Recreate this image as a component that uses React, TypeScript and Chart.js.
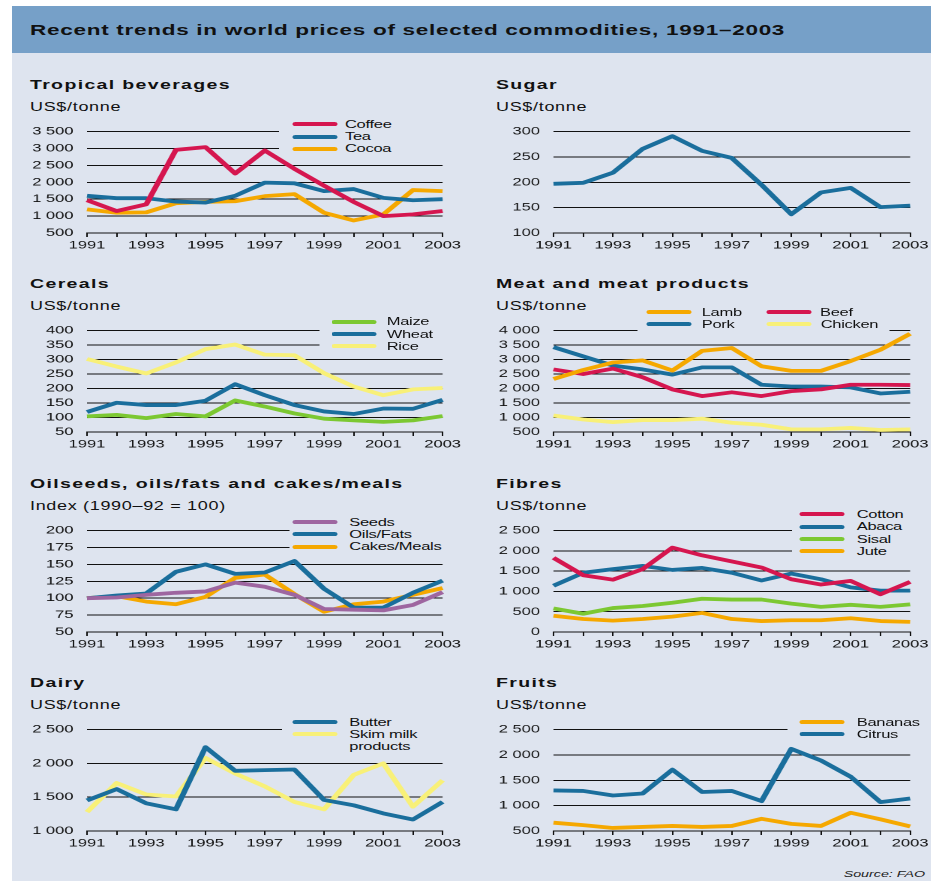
import React, { useEffect, useRef } from 'react';
import { Chart, registerables } from 'chart.js';

Chart.register(...registerables);

// ---------- data ----------
const years = ['1991', '1992', '1993', '1994', '1995', '1996', '1997', '1998', '1999', '2000', '2001', '2002', '2003'];

const coffee = [1470, 1150, 1350, 2960, 3040, 2260, 2940, 2400, 1900, 1420, 1000, 1050, 1150];
const tea = [1600, 1530, 1530, 1430, 1400, 1600, 1990, 1970, 1740, 1800, 1540, 1470, 1500];
const cocoa = [1200, 1100, 1110, 1380, 1420, 1440, 1590, 1650, 1100, 870, 1050, 1770, 1740];

const sugar = [197, 199, 219, 266, 291, 262, 248, 195, 137, 180, 189, 151, 154];

const maize = [104, 109, 98, 112, 104, 159, 138, 114, 96, 90, 85, 90, 105];
const wheat = [119, 151, 143, 143, 158, 215, 177, 143, 121, 112, 131, 130, 161];
const rice = [302, 276, 252, 290, 336, 352, 317, 315, 253, 207, 177, 197, 202];

const lamb = [2330, 2640, 2900, 2970, 2620, 3300, 3400, 2770, 2610, 2610, 2950, 3340, 3890];
const pork = [3430, 3110, 2790, 2660, 2480, 2730, 2730, 2130, 2070, 2070, 2040, 1830, 1890];
const beef = [2660, 2500, 2690, 2390, 1970, 1740, 1870, 1740, 1910, 1970, 2130, 2130, 2120];
const chicken = [1070, 930, 840, 910, 910, 960, 820, 750, 590, 590, 640, 570, 590];

const seeds = [100, 101, 105, 108, 110, 123, 117, 105, 84, 83, 82, 90, 109];
const oilsFats = [100, 104, 107, 139, 150, 136, 138, 155, 114, 86, 86, 108, 126];
const cakesMeals = [100, 103, 95, 91, 102, 130, 135, 106, 80, 91, 95, 105, 115];

const cotton = [1830, 1400, 1290, 1550, 2080, 1890, 1740, 1590, 1300, 1170, 1260, 930, 1235];
const abaca = [1140, 1460, 1550, 1630, 1530, 1580, 1460, 1270, 1440, 1300, 1100, 1020, 1020];
const sisal = [580, 450, 590, 640, 720, 820, 800, 800, 700, 620, 670, 620, 680];
const jute = [400, 320, 280, 320, 380, 470, 320, 270, 290, 290, 340, 270, 250];

const butter = [1452, 1620, 1410, 1320, 2240, 1890, 1900, 1910, 1460, 1380, 1260, 1170, 1430];
const skimMilk = [1280, 1710, 1540, 1510, 2080, 1850, 1660, 1430, 1320, 1830, 2000, 1360, 1750];

const bananas = [664, 615, 560, 580, 600, 580, 600, 740, 640, 600, 860, 730, 590];
const citrus = [1300, 1290, 1200, 1240, 1710, 1270, 1290, 1090, 2120, 1890, 1570, 1070, 1140];

// ---------- styling ----------
const RED = '#D5164F';
const BLUE = '#1A6E9C';
const ORANGE = '#F5A800';
const GREEN = '#7CC832';
const YELLOW = '#F8F078';
const PURPLE = '#9E66A0';
const PANEL_BG = '#DEE4EF';
const HEADER_BG = '#76A0C8';
const FONT = '"Liberation Sans", Arial, Helvetica, sans-serif';

const S = 1.5; // horizontal stretch of the whole composition
const COLS = [
  { plotLeft: 87, plotRight: 443, textX: 30 },
  { plotLeft: 554, plotRight: 911, textX: 496 },
];
const ROW_TOPS = [124, 323, 523, 722];
const PLOT_H = 109;

type Series = { label: string; data: number[]; color: string };
type LegendItem = { label: string; color: string; x: number; y: number; tx: number };
type PanelDef = {
  title: string;
  unit: string;
  col: number;
  row: number;
  min: number;
  max: number;
  step: number;
  series: Series[];
  legend?: { box: [number, number, number, number]; items: LegendItem[] };
};

const panels: PanelDef[] = [
  {
    title: 'Tropical beverages', unit: 'US$/tonne', col: 0, row: 0, min: 500, max: 3500, step: 500,
    series: [
      { label: 'Coffee', data: coffee, color: RED },
      { label: 'Tea', data: tea, color: BLUE },
      { label: 'Cocoa', data: cocoa, color: ORANGE },
    ],
    legend: {
      box: [279, 116, 450, 155],
      items: [
        { label: 'Coffee', color: RED, x: 293, y: 124.3, tx: 345 },
        { label: 'Tea', color: BLUE, x: 293, y: 136.7, tx: 345 },
        { label: 'Cocoa', color: ORANGE, x: 293, y: 148.7, tx: 345 },
      ],
    },
  },
  {
    title: 'Sugar', unit: 'US$/tonne', col: 1, row: 0, min: 100, max: 300, step: 50,
    series: [{ label: 'Sugar', data: sugar, color: BLUE }],
  },
  {
    title: 'Cereals', unit: 'US$/tonne', col: 0, row: 1, min: 50, max: 400, step: 50,
    series: [
      { label: 'Maize', data: maize, color: GREEN },
      { label: 'Wheat', data: wheat, color: BLUE },
      { label: 'Rice', data: rice, color: YELLOW },
    ],
    legend: {
      box: [319, 315, 450, 352],
      items: [
        { label: 'Maize', color: GREEN, x: 331.7, y: 321.7, tx: 386.7 },
        { label: 'Wheat', color: BLUE, x: 331.7, y: 334, tx: 386.7 },
        { label: 'Rice', color: YELLOW, x: 331.7, y: 346.3, tx: 386.7 },
      ],
    },
  },
  {
    title: 'Meat and meat products', unit: 'US$/tonne', col: 1, row: 1, min: 500, max: 4000, step: 500,
    series: [
      { label: 'Lamb', data: lamb, color: ORANGE },
      { label: 'Beef', data: beef, color: RED },
      { label: 'Pork', data: pork, color: BLUE },
      { label: 'Chicken', data: chicken, color: YELLOW },
    ],
    legend: {
      box: [637, 305, 890, 331],
      items: [
        { label: 'Lamb', color: ORANGE, x: 646.7, y: 312.3, tx: 701.7 },
        { label: 'Beef', color: RED, x: 766.7, y: 312.3, tx: 820 },
        { label: 'Pork', color: BLUE, x: 646.7, y: 324.3, tx: 701.7 },
        { label: 'Chicken', color: YELLOW, x: 766.7, y: 324.3, tx: 820.7 },
      ],
    },
  },
  {
    title: 'Oilseeds, oils/fats and cakes/meals', unit: 'Index (1990\u201392 = 100)', col: 0, row: 2, min: 50, max: 200, step: 25,
    series: [
      { label: 'Seeds', data: seeds, color: PURPLE },
      { label: 'Oils/Fats', data: oilsFats, color: BLUE },
      { label: 'Cakes/Meals', data: cakesMeals, color: ORANGE },
    ],
    legend: {
      box: [289, 515, 450, 553],
      items: [
        { label: 'Seeds', color: PURPLE, x: 293, y: 522.3, tx: 349.3 },
        { label: 'Oils/Fats', color: BLUE, x: 293, y: 534.3, tx: 349.3 },
        { label: 'Cakes/Meals', color: ORANGE, x: 293, y: 546.7, tx: 349.3 },
      ],
    },
  },
  {
    title: 'Fibres', unit: 'US$/tonne', col: 1, row: 2, min: 0, max: 2500, step: 500,
    series: [
      { label: 'Cotton', data: cotton, color: RED },
      { label: 'Abaca', data: abaca, color: BLUE },
      { label: 'Sisal', data: sisal, color: GREEN },
      { label: 'Jute', data: jute, color: ORANGE },
    ],
    legend: {
      box: [792, 507, 931, 557],
      items: [
        { label: 'Cotton', color: RED, x: 800, y: 514.3, tx: 856.7 },
        { label: 'Abaca', color: BLUE, x: 800, y: 526.7, tx: 856.7 },
        { label: 'Sisal', color: GREEN, x: 800, y: 539, tx: 856.7 },
        { label: 'Jute', color: ORANGE, x: 800, y: 551, tx: 856.7 },
      ],
    },
  },
  {
    title: 'Dairy', unit: 'US$/tonne', col: 0, row: 3, min: 1000, max: 2500, step: 500,
    series: [
      { label: 'Butter', data: butter, color: BLUE },
      { label: 'Skim milk products', data: skimMilk, color: YELLOW },
    ],
    legend: {
      box: [282, 714, 450, 752],
      items: [
        { label: 'Butter', color: BLUE, x: 293, y: 722.3, tx: 349.3 },
        { label: 'Skim milk\nproducts', color: YELLOW, x: 293, y: 734.3, tx: 349.3 },
      ],
    },
  },
  {
    title: 'Fruits', unit: 'US$/tonne', col: 1, row: 3, min: 500, max: 2500, step: 500,
    series: [
      { label: 'Bananas', data: bananas, color: ORANGE },
      { label: 'Citrus', data: citrus, color: BLUE },
    ],
    legend: {
      box: [788, 714, 931, 742],
      items: [
        { label: 'Bananas', color: ORANGE, x: 800, y: 722.3, tx: 856.7 },
        { label: 'Citrus', color: BLUE, x: 800, y: 734, tx: 856.7 },
      ],
    },
  },
];

function fmt(v: number): string {
  if (v >= 1000) {
    const th = Math.floor(v / 1000);
    const rest = String(v % 1000).padStart(3, '0');
    return th + ' ' + rest;
  }
  return String(v);
}

const Y_AXIS_W = 40;
const PAD_TOP = 8;
const PAD_RIGHT = 14;
const X_AXIS_H = 24;

function PanelChart({ p }: { p: PanelDef }) {
  const ref = useRef<HTMLCanvasElement | null>(null);
  const col = COLS[p.col];
  const top = ROW_TOPS[p.row];
  const plotW = (col.plotRight - col.plotLeft) / S;
  const left = col.plotLeft / S - Y_AXIS_W;
  const width = Y_AXIS_W + plotW + PAD_RIGHT;
  const height = PAD_TOP + PLOT_H + X_AXIS_H;

  useEffect(() => {
    if (!ref.current) return;
    const chart = new Chart(ref.current, {
      type: 'line',
      data: {
        labels: years,
        datasets: p.series.map((s) => ({
          label: s.label,
          data: s.data,
          borderColor: s.color,
          backgroundColor: s.color,
          borderWidth: 3.8,
          pointRadius: 0,
          tension: 0,
          fill: false,
          borderJoinStyle: 'round' as const,
          borderCapStyle: 'butt' as const,
        })),
      },
      options: {
        animation: false,
        responsive: true,
        maintainAspectRatio: false,
        devicePixelRatio: 2,
        layout: { padding: { top: PAD_TOP, right: PAD_RIGHT, bottom: 0, left: 0 } },
        plugins: { legend: { display: false }, tooltip: { enabled: false } },
        scales: {
          x: {
            type: 'category',
            grid: { drawOnChartArea: false, drawTicks: true, tickLength: 4, color: '#111', lineWidth: 1 },
            border: { display: true, color: '#111', width: 1 },
            ticks: {
              autoSkip: false,
              maxRotation: 0,
              minRotation: 0,
              padding: 2,
              color: '#111',
              font: { family: FONT, size: 11 },
              callback: (_v: any, i: number) => (i % 2 === 0 ? years[i] : ''),
            },
            afterFit: (s: any) => {
              s.height = X_AXIS_H;
            },
          },
          y: {
            min: p.min,
            max: p.max,
            grid: { drawTicks: false, color: '#111', lineWidth: 1 },
            border: { display: false },
            ticks: {
              stepSize: p.step,
              autoSkip: false,
              padding: 9,
              color: '#111',
              font: { family: FONT, size: 11 },
              callback: (v: any) => fmt(Number(v)),
            },
            afterFit: (s: any) => {
              s.width = Y_AXIS_W;
            },
          },
        },
      },
    });
    return () => chart.destroy();
  }, []);

  return (
    <div style={{ position: 'absolute', left, top: top - PAD_TOP, width, height }}>
      <canvas ref={ref} />
    </div>
  );
}

function Panel({ p }: { p: PanelDef }) {
  const col = COLS[p.col];
  const top = ROW_TOPS[p.row];
  return (
    <>
      <div
        style={{
          position: 'absolute',
          left: col.textX / S,
          top: top - 46,
          fontFamily: FONT,
          fontWeight: 700,
          fontSize: 13,
          lineHeight: '13px',
          letterSpacing: '0.9px',
          color: '#111',
          whiteSpace: 'nowrap',
        }}
      >
        {p.title}
      </div>
      <div
        style={{
          position: 'absolute',
          left: col.textX / S,
          top: top - 23.2,
          fontFamily: FONT,
          fontSize: 12,
          lineHeight: '12px',
          letterSpacing: '0.45px',
          color: '#111',
          whiteSpace: 'nowrap',
        }}
      >
        {p.unit}
      </div>
      <PanelChart p={p} />
      {p.legend && (
        <>
          <div
            style={{
              position: 'absolute',
              left: p.legend.box[0] / S,
              top: p.legend.box[1],
              width: (p.legend.box[2] - p.legend.box[0]) / S,
              height: p.legend.box[3] - p.legend.box[1],
              background: PANEL_BG,
              zIndex: 2,
            }}
          />
          {p.legend.items.map((it) => (
            <React.Fragment key={it.label}>
              <div
                style={{
                  position: 'absolute',
                  left: it.x / S,
                  top: it.y - 2,
                  width: 45 / S,
                  height: 4,
                  borderRadius: 2,
                  background: it.color,
                  zIndex: 3,
                }}
              />
              <div
                style={{
                  position: 'absolute',
                  left: it.tx / S,
                  top: it.y - 6.5,
                  fontFamily: FONT,
                  fontSize: 11,
                  lineHeight: '12.3px',
                  letterSpacing: '-0.2px',
                  color: '#111',
                  whiteSpace: 'pre',
                  zIndex: 3,
                }}
              >
                {it.label}
              </div>
            </React.Fragment>
          ))}
        </>
      )}
    </>
  );
}

export default function App() {
  return (
    <div
      style={{
        position: 'absolute',
        left: 0,
        top: 0,
        width: 931 / S,
        height: 881,
        background: '#fff',
        transform: `scaleX(${S})`,
        transformOrigin: '0 0',
        overflow: 'hidden',
      }}
    >
      <div
        style={{
          position: 'absolute',
          left: 12 / S,
          top: 6,
          width: (931 - 12) / S,
          height: 47,
          background: HEADER_BG,
        }}
      />
      <div
        style={{
          position: 'absolute',
          left: 30 / S,
          top: 6,
          height: 47,
          display: 'flex',
          alignItems: 'center',
          fontFamily: FONT,
          fontWeight: 700,
          fontSize: 15,
          letterSpacing: '0.48px',
          color: '#111',
          whiteSpace: 'nowrap',
        }}
      >
        Recent trends in world prices of selected commodities, 1991–2003
      </div>
      <div
        style={{
          position: 'absolute',
          left: 12 / S,
          top: 53,
          width: (931 - 12) / S,
          height: 881 - 53,
          background: PANEL_BG,
        }}
      />
      {panels.map((p) => (
        <Panel key={p.title} p={p} />
      ))}
      <div
        style={{
          position: 'absolute',
          right: (931 - 925) / S,
          top: 869,
          fontFamily: FONT,
          fontStyle: 'italic',
          fontSize: 9.5,
          lineHeight: '10px',
          color: '#222',
          whiteSpace: 'nowrap',
        }}
      >
        Source: FAO
      </div>
    </div>
  );
}
